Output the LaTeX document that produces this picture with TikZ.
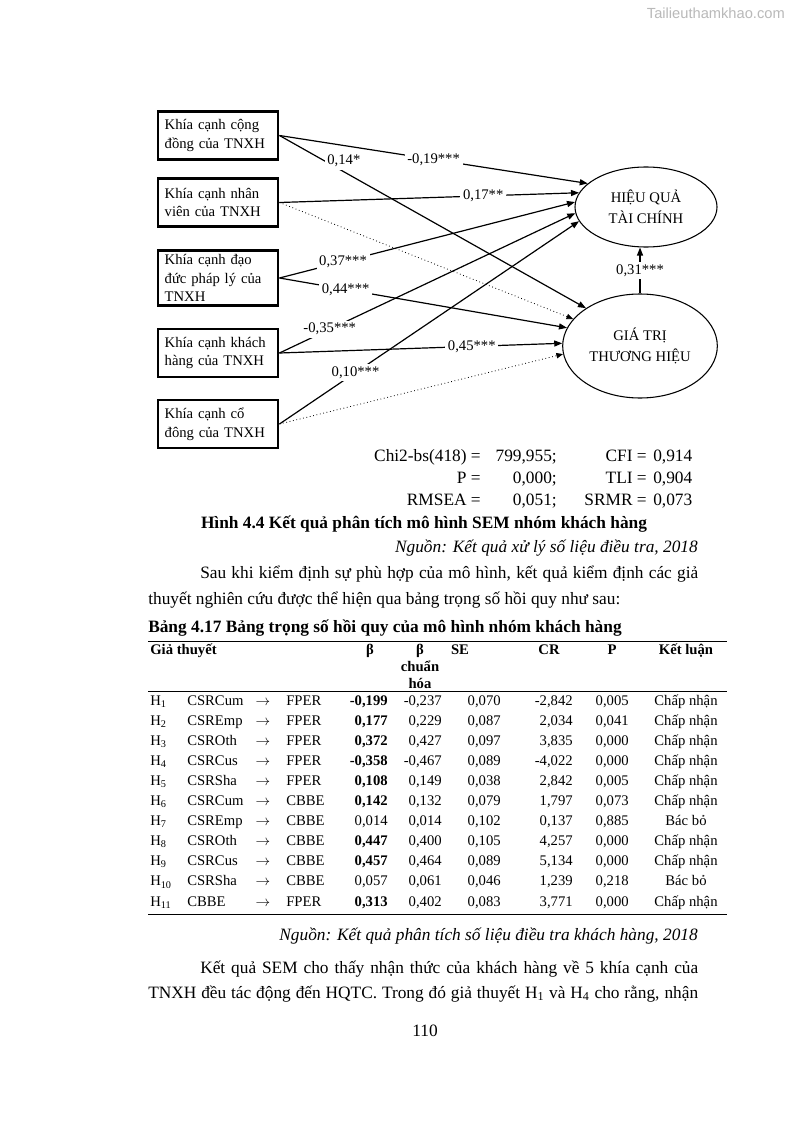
\documentclass[tikz,border=0pt]{standalone}
\usepackage{fontspec}
\setmainfont{Liberation Serif}
\newfontfamily\wmfont{Liberation Sans}
\usepackage{tikz}
\usetikzlibrary{arrows.meta}
\usetikzlibrary{shapes.geometric}

\begin{document}
\begin{tikzpicture}[x=0.75pt, y=-0.75pt,
  cbox/.style={draw, line width=2.2pt, text width=80pt, inner xsep=5pt, inner ysep=3pt,
    minimum height=36pt, align=left, font=\fontsize{11pt}{14pt}\selectfont},
  latent/.style={draw, ellipse, inner sep=0pt, line width=0.8pt, align=center,
    font=\fontsize{11pt}{16pt}\selectfont},
  arr/.style={-{Triangle[length=6pt,width=4.5pt]}, line width=0.9pt},
  ns/.style={-{Triangle[length=5pt,width=4pt]}, line width=0.6pt, dotted},
  lbl/.style={fill=white, inner sep=2pt, font=\fontsize{11pt}{13pt}\selectfont},
  body/.style={inner sep=0pt, font=\fontsize{13pt}{16pt}\selectfont},
  cell/.style={inner sep=0pt, font=\fontsize{11pt}{13pt}\selectfont}]
\fill[white] (0,0) rectangle (794,1123);
\useasboundingbox (0,0) rectangle (794,1123);

% watermark
\node[anchor=base east, text=gray!55, inner sep=0pt, font=\wmfont\fontsize{11pt}{13pt}\selectfont] (wm) at (785,19) {Tailieuthamkhao.com};

% CSR dimensions
\node[cbox] (b1) at (218,135.5) {Khía cạnh cộng\\đồng của TNXH};
\node[cbox] (b2) at (218,202.5) {Khía cạnh nhân\\viên của TNXH};
\node[cbox] (b3) at (218,278) {Khía cạnh đạo\\đức pháp lý của\\TNXH};
\node[cbox] (b4) at (218,353) {Khía cạnh khách\\hàng của TNXH};
\node[cbox] (b5) at (218,424) {Khía cạnh cổ\\đông của TNXH};

% outcomes
\node[latent, minimum width=106.5pt, minimum height=60pt] (fper) at (646,207) {HIỆU QUẢ\\TÀI CHÍNH};
\node[latent, minimum width=116pt, minimum height=78pt] (cbbe) at (640,346) {GIÁ TRỊ\\THƯƠNG HIỆU};

% paths
\draw[ns] (b2.east) -- (cbbe.158);
\draw[ns] (b5.east) -- (cbbe.186);
\draw[arr] (b1.east) -- (fper.158) node[lbl, pos=0.5] {-0,19***};
\draw[arr] (b1.east) -- (cbbe.145) node[lbl, pos=0.21, yshift=8pt] {0,14*};
\draw[arr] (b2.east) -- (fper.168) node[lbl, pos=0.68] {0,17**};
\draw[arr] (b3.east) -- (fper.176) node[lbl, pos=0.215] {0,37***};
\draw[arr] (b3.east) -- (cbbe.166) node[lbl, pos=0.23] {0,44***};
\draw[arr] (b4.east) -- (cbbe.178) node[lbl, pos=0.68] {0,45***};
\draw[arr] (b4.east) -- (fper.185) node[lbl, pos=0.17] {-0,35***};
\draw[arr] (b5.east) -- (fper.192) node[lbl, pos=0.254] {0,10***};
\draw[arr] (cbbe.north) -- (cbbe.north |- fper.south) node[lbl, midway] {0,31***};

% fit indices
\node[body, anchor=base east] (chi) at (481,461) {Chi2-bs(418) =};
\node[body, anchor=base east] (chiv) at (557,461) {799,955;};
\node[body, anchor=base east] (cfi) at (647,461) {CFI =};
\node[body, anchor=base west] (cfiv) at (653,461) {0,914};
\node[body, anchor=base east] (pp) at (481,483) {P =};
\node[body, anchor=base east] (ppv) at (557,483) {0,000;};
\node[body, anchor=base east] (tli) at (647,483) {TLI =};
\node[body, anchor=base west] (tliv) at (653,483) {0,904};
\node[body, anchor=base east] (rmsea) at (481,505) {RMSEA =};
\node[body, anchor=base east] (rmseav) at (557,505) {0,051;};
\node[body, anchor=base east] (srmr) at (647,505) {SRMR =};
\node[body, anchor=base west] (srmrv) at (653,505) {0,073};

% caption and text
\node[body, anchor=base] (cap) at (424,528) {\bfseries Hình 4.4 Kết quả phân tích mô hình SEM nhóm khách hàng};
\node[body, anchor=base east] (src1) at (698,552) {\itshape Nguồn: Kết quả xử lý số liệu điều tra, 2018};
\node[body, anchor=base west] (p1) at (200,578) {\makebox[373.5pt][s]{Sau khi kiểm định sự phù hợp của mô hình, kết quả kiểm định các giả}};
\node[body, anchor=base west] (p2) at (148,604) {thuyết nghiên cứu được thể hiện qua bảng trọng số hồi quy như sau:};
\node[body, anchor=base west] (tcap) at (148,632) {\bfseries Bảng 4.17 Bảng trọng số hồi quy của mô hình nhóm khách hàng};

% table
\draw[line width=0.75pt] (148,641) -- (727,641);
\draw[line width=0.75pt] (148,691) -- (727,691);
\draw[line width=0.75pt] (148,914) -- (727,914);
\node[cell, anchor=base west] (th1) at (150,654) {\bfseries Giả thuyết};
\node[cell, anchor=base] (th2) at (370,654) {\bfseries β};
\node[cell, anchor=base] (th3) at (420,654) {\bfseries β};
\node[cell, anchor=base] (th3b) at (420,671) {\bfseries chuẩn};
\node[cell, anchor=base] (th3c) at (420,688) {\bfseries hóa};
\node[cell, anchor=base] (th4) at (460,654) {\bfseries SE};
\node[cell, anchor=base] (th5) at (549,654) {\bfseries CR};
\node[cell, anchor=base] (th6) at (612,654) {\bfseries P};
\node[cell, anchor=base] (th7) at (686,654) {\bfseries Kết luận};
\foreach \h/\src/\dst/\b/\bs/\se/\cr/\p/\kl [count=\i from 0] in {
  1/CSRCum/FPER/{\textbf{-0,199}}/{-0,237}/{0,070}/{-2,842}/{0,005}/Chấp nhận,
  2/CSREmp/FPER/{\textbf{0,177}}/{0,229}/{0,087}/{2,034}/{0,041}/Chấp nhận,
  3/CSROth/FPER/{\textbf{0,372}}/{0,427}/{0,097}/{3,835}/{0,000}/Chấp nhận,
  4/CSRCus/FPER/{\textbf{-0,358}}/{-0,467}/{0,089}/{-4,022}/{0,000}/Chấp nhận,
  5/CSRSha/FPER/{\textbf{0,108}}/{0,149}/{0,038}/{2,842}/{0,005}/Chấp nhận,
  6/CSRCum/CBBE/{\textbf{0,142}}/{0,132}/{0,079}/{1,797}/{0,073}/Chấp nhận,
  7/CSREmp/CBBE/{0,014}/{0,014}/{0,102}/{0,137}/{0,885}/Bác bỏ,
  8/CSROth/CBBE/{\textbf{0,447}}/{0,400}/{0,105}/{4,257}/{0,000}/Chấp nhận,
  9/CSRCus/CBBE/{\textbf{0,457}}/{0,464}/{0,089}/{5,134}/{0,000}/Chấp nhận,
  10/CSRSha/CBBE/{0,057}/{0,061}/{0,046}/{1,239}/{0,218}/Bác bỏ,
  11/CBBE/FPER/{\textbf{0,313}}/{0,402}/{0,083}/{3,771}/{0,000}/Chấp nhận}{
  \node[cell, anchor=base west] (hy\i) at (150,705+20.1*\i) {H\textsubscript{\h}};
  \node[cell, anchor=base west] (src\i) at (187,705+20.1*\i) {\src};
  \node[cell, anchor=base] (to\i) at (263,705+20.1*\i) {$\rightarrow$};
  \node[cell, anchor=base west] (dst\i) at (286,705+20.1*\i) {\dst};
  \node[cell, anchor=base east] (b\i) at (388,705+20.1*\i) {\b};
  \node[cell, anchor=base east] (bs\i) at (442,705+20.1*\i) {\bs};
  \node[cell, anchor=base east] (se\i) at (501,705+20.1*\i) {\se};
  \node[cell, anchor=base east] (cr\i) at (573,705+20.1*\i) {\cr};
  \node[cell, anchor=base east] (p\i) at (629,705+20.1*\i) {\p};
  \node[cell, anchor=base] (kl\i) at (686,705+20.1*\i) {\kl};
}

% closing text
\node[body, anchor=base east] (src2) at (698,940) {\itshape Nguồn: Kết quả phân tích số liệu điều tra khách hàng, 2018};
\node[body, anchor=base west] (p3) at (200,973) {\makebox[373.5pt][s]{Kết quả SEM cho thấy nhận thức của khách hàng về 5 khía cạnh của}};
\node[body, anchor=base west] (p4) at (148,998) {\makebox[412.5pt][s]{TNXH đều tác động đến HQTC. Trong đó giả thuyết H\textsubscript{1} và H\textsubscript{4} cho rằng, nhận}};
\node[body, anchor=base] (pg) at (425,1036) {110};
\end{tikzpicture}
\end{document}
